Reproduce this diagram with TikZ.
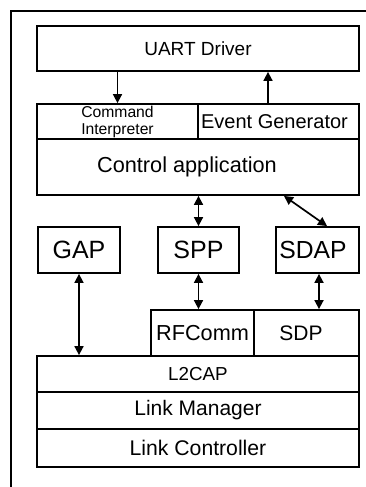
\documentclass[tikz,border=0pt]{standalone}
\usepackage{fontspec}
\setmainfont{Liberation Sans}
\usetikzlibrary{arrows.meta}
\tikzset{
  box/.style={draw, line width=1.8pt, rectangle, inner sep=0pt, anchor=center},
  fs/.style={font=\fontsize{#1}{#1}\selectfont},
  arr/.style={line width=1.7pt, -{Triangle[length=9pt,width=9pt]}},
  darr/.style={line width=1.7pt, {Triangle[length=9pt,width=9pt]}-{Triangle[length=9pt,width=9pt]}},
}
\begin{document}
\begin{tikzpicture}[x=1pt,y=-1pt]
\useasboundingbox (0,0) rectangle (366,487);
% outer frame (cut off at right and bottom)
\draw[line width=1.8pt] (11,490) -- (11,11) -- (370,11);
% layers
\node[box, minimum width=322pt, minimum height=45pt, fs=19pt] (uart) at (198,48.5) {UART Driver};
\node[box, minimum width=161pt, minimum height=35pt, align=center, font=\fontsize{15.7pt}{17pt}\selectfont] (cmd) at (117.5,121.5) {Command\\Interpreter};
\node[box, minimum width=161pt, minimum height=35pt, fs=20pt] (evt) at (278.5,121.5) {Event Generator\kern8pt};
\node[box, minimum width=322pt, minimum height=56pt, fs=21.7pt] (ctrl) at (198,167) {Control application\kern22pt};
\node[box, minimum width=82pt, minimum height=46pt, fs=25pt] (gap) at (79,250) {GAP};
\node[box, minimum width=81pt, minimum height=46pt, fs=25pt] (spp) at (198.5,250) {SPP};
\node[box, minimum width=83pt, minimum height=46pt, fs=24.7pt] (sdap) at (317.5,250) {SDAP\kern9pt};
\node[box, minimum width=103pt, minimum height=46pt, fs=21.7pt] (rfc) at (202.5,333) {RFComm};
\node[box, minimum width=105pt, minimum height=46pt, fs=21pt] (sdp) at (306.5,333) {SDP\kern11pt};
\node[box, minimum width=322pt, minimum height=36pt, fs=18.8pt] (l2cap) at (198,374) {L2CAP};
\node[box, minimum width=322pt, minimum height=37pt, fs=21pt] (lm) at (198,410.5) {Link Manager};
\node[box, minimum width=322pt, minimum height=38pt, fs=21.2pt] (lc) at (198,448) {Link Controller};
% connectors
\draw[arr] (uart.south -| cmd.north) -- (cmd.north);
\draw[arr] ([xshift=-10.5pt]evt.north) -- ([xshift=-10.5pt]evt.north |- uart.south);
\draw[darr] (spp.north |- ctrl.south) -- (spp.north);
\draw[darr] ([xshift=86pt]ctrl.south) -- ([xshift=9.5pt]sdap.north);
\draw[darr] (gap.south) -- (gap.south |- l2cap.north);
\draw[darr] (spp.south) -- (spp.south |- rfc.north);
\draw[darr] ([xshift=1.5pt]sdap.south) -- ([xshift=1.5pt]sdap.south |- sdp.north);
\end{tikzpicture}
\end{document}
